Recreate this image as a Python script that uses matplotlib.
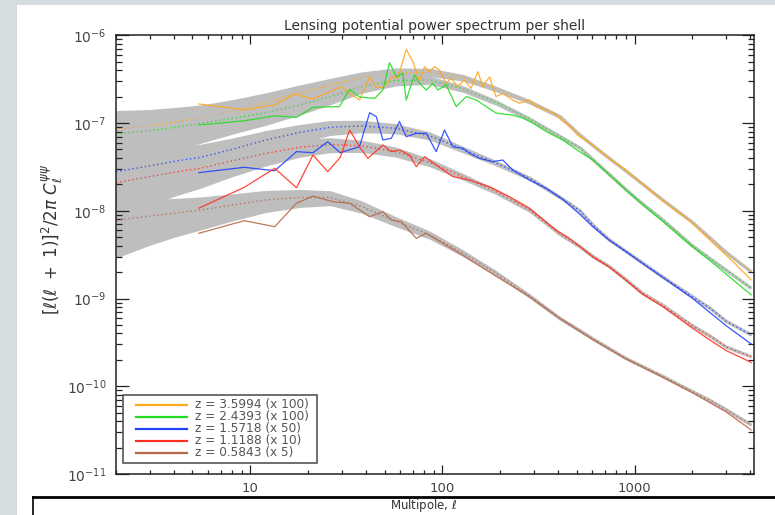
import numpy as np
import matplotlib
matplotlib.use("Agg")
import matplotlib.pyplot as plt
from matplotlib.lines import Line2D
from matplotlib.patches import Rectangle
from matplotlib.ticker import FixedLocator, LogLocator, NullFormatter, FixedFormatter

# ---------------- data ----------------
labels = ["z = 3.5994 (x 100)", "z = 2.4393 (x 100)", "z = 1.5718 (x 50)",
          "z = 1.1188 (x 10)", "z = 0.5843 (x 5)"]
colors = ["#ffa820", "#22dd22", "#2244ff", "#ff3322", "#b8684a"]

ell_theory = [2, 3, 4, 5.5, 8, 12, 18, 26, 38, 57, 86, 128, 190, 284, 410, 520,
              610, 740, 900, 1100, 1400, 2000, 2500, 3000, 4050]
theory_orange = [8.5e-8, 9.3e-8, 1.02e-7, 1.14e-7, 1.37e-7, 1.72e-7, 2.2e-7, 2.7e-7,
                 3.3e-7, 3.75e-7, 3.8e-7, 3.3e-7, 2.45e-7, 1.75e-7, 1.18e-7, 7.3e-8,
                 5.5e-8, 3.95e-8, 2.85e-8, 2.02e-8, 1.33e-8, 7.4e-9, 4.8e-9, 3.35e-9, 2.02e-9]
theory_green = [7.5e-8, 8.2e-8, 8.9e-8, 9.9e-8, 1.13e-7, 1.31e-7, 1.6e-7, 2.0e-7,
                2.6e-7, 3.05e-7, 3.1e-7, 2.45e-7, 1.72e-7, 1.11e-7, 7.0e-8, 5.2e-8,
                3.8e-8, 2.6e-8, 1.75e-8, 1.2e-8, 7.9e-9, 4.0e-9, 2.8e-9, 2.1e-9, 1.31e-9]
theory_blue = [2.79e-8, 3.25e-8, 3.65e-8, 4.07e-8, 5.0e-8, 6.4e-8, 7.8e-8, 8.95e-8,
               9.26e-8, 8.71e-8, 7.16e-8, 5.0e-8, 3.5e-8, 2.35e-8, 1.42e-8, 1.0e-8,
               6.8e-9, 4.65e-9, 3.45e-9, 2.55e-9, 1.76e-9, 1.05e-9, 7.6e-10, 5.5e-10, 3.84e-10]
theory_red = [2.09e-8, 2.45e-8, 2.75e-8, 3.05e-8, 3.7e-8, 4.5e-8, 5.3e-8, 5.7e-8,
              5.5e-8, 4.72e-8, 3.55e-8, 2.45e-8, 1.65e-8, 1.02e-8, 5.4e-9, 3.9e-9,
              3.0e-9, 2.31e-9, 1.65e-9, 1.15e-9, 8.4e-10, 4.9e-10, 3.67e-10, 2.8e-10, 2.17e-10]
theory_brown = [7.85e-9, 8.7e-9, 9.4e-9, 1.02e-8, 1.16e-8, 1.33e-8, 1.42e-8, 1.42e-8,
                1.12e-8, 7.6e-9, 5.3e-9, 3.3e-9, 1.95e-9, 1.07e-9, 5.9e-10, 4.3e-10,
                3.45e-10, 2.68e-10, 2.08e-10, 1.68e-10, 1.3e-10, 8.7e-11, 6.8e-11, 5.4e-11, 3.62e-11]

ell_orange = [5.4, 8.1, 9.3, 13.4, 17.0, 21.2, 29.7, 32.9, 37.0, 41.8, 45.3, 49.0, 51.0,
              55.2, 58.4, 64.8, 70.2, 76.0, 80.7, 85.7, 91.0, 96.6, 104.7, 111, 120, 130,
              141, 153, 162, 176, 190, 206, 232, 252, 284, 308, 347, 391, 415, 458, 505,
              606, 740, 904, 1103, 1400, 1930, 2453, 3243, 4045]
data_orange = [1.65e-7, 1.47e-7, 1.41e-7, 1.61e-7, 2.14e-7, 1.88e-7, 2.6e-7, 2.18e-7,
               1.83e-7, 3.32e-7, 2.55e-7, 2.55e-7, 2.84e-7, 3.37e-7, 3.2e-7, 6.9e-7,
               5.0e-7, 3.0e-7, 4.39e-7, 3.85e-7, 4.39e-7, 4.02e-7, 2.84e-7, 3.24e-7,
               2.6e-7, 3.09e-7, 2.49e-7, 3.85e-7, 2.6e-7, 3.37e-7, 2.0e-7, 2.18e-7,
               1.83e-7, 1.68e-7, 1.83e-7, 1.54e-7, 1.41e-7, 1.23e-7, 1.08e-7, 9.3e-8,
               7.3e-8, 5.6e-8, 3.9e-8, 2.9e-8, 2.0e-8, 1.3e-8, 7.7e-9, 4.7e-9, 2.65e-9, 1.63e-9]

ell_green = [5.4, 9.3, 13.4, 17.4, 21.2, 29.1, 32.9, 37.0, 44.4, 49.0, 53.1, 57.5, 62.2,
             64.8, 71.6, 76.0, 82.4, 89.2, 94.6, 104.7, 118, 133, 150, 169, 190, 232,
             262, 295, 347, 423, 517, 606, 740, 904, 1100, 1400, 2009, 2500, 2997, 4045]
data_green = [9.5e-8, 1.06e-7, 1.21e-7, 1.16e-7, 1.51e-7, 1.54e-7, 2.42e-7, 1.98e-7,
              1.91e-7, 2.38e-7, 4.87e-7, 3.37e-7, 3.69e-7, 1.83e-7, 3.53e-7, 2.84e-7,
              2.38e-7, 2.84e-7, 2.38e-7, 2.71e-7, 1.54e-7, 2.0e-7, 1.83e-7, 1.54e-7,
              1.3e-7, 1.23e-7, 1.14e-7, 1.0e-7, 8.0e-8, 6.4e-8, 4.72e-8, 3.8e-8, 2.55e-8,
              1.72e-8, 1.18e-8, 7.6e-9, 3.85e-9, 2.65e-9, 1.9e-9, 1.1e-9]

ell_blue = [5.4, 9.3, 13.4, 17.4, 21.2, 25.3, 29.4, 37.0, 41.8, 45.3, 49.0, 54.2, 59.8,
            64.8, 73.1, 82.4, 92.8, 102.5, 113.3, 127.7, 138.4, 156, 183, 206, 232, 284,
            347, 423, 517, 606, 740, 904, 1103, 1348, 1646, 2009, 2453, 2997, 4045]
data_blue = [2.72e-8, 3.13e-8, 2.86e-8, 4.72e-8, 4.59e-8, 6.13e-8, 4.59e-8, 5.37e-8,
             1.31e-7, 1.18e-7, 6.41e-8, 6.7e-8, 1.04e-7, 6.99e-8, 7.64e-8, 7.64e-8,
             4.72e-8, 8.33e-8, 5.37e-8, 5.16e-8, 4.52e-8, 3.96e-8, 3.63e-8, 3.79e-8,
             2.92e-8, 2.24e-8, 1.8e-8, 1.35e-8, 9.2e-9, 6.6e-9, 4.6e-9, 3.42e-9, 2.5e-9,
             1.85e-9, 1.36e-9, 1.0e-9, 7.0e-10, 4.9e-10, 3.03e-10]

ell_red = [5.4, 9.3, 13.4, 17.4, 21.2, 25.3, 29.4, 32.9, 37.0, 40.9, 49.0, 54.2, 59.8,
           67.4, 73.1, 80.7, 92.8, 113.3, 138.4, 176, 223, 284, 391, 458, 520, 610, 740,
           900, 1100, 1400, 2000, 2500, 3000, 4045]
data_red = [1.07e-8, 1.85e-8, 3.05e-8, 1.83e-8, 4.32e-8, 2.79e-8, 4.07e-8, 8.33e-8,
            5.37e-8, 3.96e-8, 5.62e-8, 4.72e-8, 4.93e-8, 4.32e-8, 3.18e-8, 4.13e-8,
            3.33e-8, 2.45e-8, 2.24e-8, 1.88e-8, 1.45e-8, 1.07e-8, 6.0e-9, 4.86e-9, 3.9e-9,
            2.95e-9, 2.28e-9, 1.62e-9, 1.12e-9, 8.1e-10, 4.6e-10, 3.3e-10, 2.55e-10, 1.87e-10]

ell_brown = [5.4, 9.3, 13.4, 17.4, 21.2, 26.9, 32.9, 41.8, 49.0, 54.2, 61.0, 73.1, 82.4,
             92.8, 128, 190, 284, 406, 606, 904, 1348, 2009, 2997, 4045]
data_brown = [5.54e-9, 7.71e-9, 6.59e-9, 1.22e-8, 1.47e-8, 1.27e-8, 1.22e-8, 8.57e-9,
              9.77e-9, 7.85e-9, 7.51e-9, 4.86e-9, 5.54e-9, 4.73e-9, 3.1e-9, 1.8e-9,
              1.05e-9, 6.0e-10, 3.4e-10, 2.05e-10, 1.32e-10, 8.4e-11, 5.1e-11, 3.18e-11]

xtick_vals = [10, 100, 1000]
xtick_labels = ["10", "100", "1000"]
ytick_vals = [1e-11, 1e-10, 1e-9, 1e-8, 1e-7, 1e-6]
ytick_labels = [r"$10^{-11}$", r"$10^{-10}$", r"$10^{-9}$", r"$10^{-8}$", r"$10^{-7}$", r"$10^{-6}$"]

theories = [theory_orange, theory_green, theory_blue, theory_red, theory_brown]
ells = [ell_orange, ell_green, ell_blue, ell_red, ell_brown]
datas = [data_orange, data_green, data_blue, data_red, data_brown]

# ---------------- figure ----------------
W, H = 775, 515
fig = plt.figure(figsize=(W / 100, H / 100), dpi=100, facecolor="#d5dde1")
fig.add_artist(Rectangle((17 / W, 0), 1 - 17 / W, 1 - 5 / H, transform=fig.transFigure,
                         facecolor="white", edgecolor="none", zorder=0))

ax = fig.add_axes([116 / W, 1 - 474 / H, (754.3 - 116) / W, (474 - 35.3) / H])
ax.set_xscale("log")
ax.set_yscale("log")
ax.set_xlim(2, 4200)
ax.set_ylim(1e-11, 1e-6)

band_color = "#bebebe"
lt = np.array(ell_theory, dtype=float)
kfrac = np.sqrt(2.0 / (2.0 * lt + 1.0))  # cosmic-variance band
for th in theories:
    th = np.array(th)
    ax.fill_between(lt, th * (1 - kfrac), th * (1 + kfrac), color=band_color, lw=0, zorder=1)
    ax.plot(lt, th, color=band_color, lw=2.4, zorder=1.5, solid_capstyle="butt")
for th, c in zip(theories, colors):
    ax.plot(lt, th, color=c, lw=1.0, ls=(0, (1, 2)), alpha=0.85, zorder=2)
for l, d, c in zip(ells, datas, colors):
    ax.plot(l, d, color=c, lw=0.9, alpha=0.9, zorder=3)

# ticks
ax.xaxis.set_major_locator(FixedLocator(xtick_vals))
ax.xaxis.set_major_formatter(FixedFormatter(xtick_labels))
ax.xaxis.set_minor_locator(LogLocator(base=10, subs=np.arange(2, 10), numticks=20))
ax.xaxis.set_minor_formatter(NullFormatter())
ax.yaxis.set_major_locator(FixedLocator(ytick_vals))
ax.yaxis.set_major_formatter(FixedFormatter(ytick_labels))
ax.yaxis.set_minor_locator(LogLocator(base=10, subs=np.arange(2, 10), numticks=20))
ax.yaxis.set_minor_formatter(NullFormatter())
ax.tick_params(which="both", direction="in", top=True, right=True, color="#222222",
               labelcolor="#444444")
ax.tick_params(axis="x", which="major", length=6.5, width=0.9, pad=6, labelsize=9.5)
ax.tick_params(axis="x", which="minor", length=3.2, width=0.9)
ax.tick_params(axis="y", which="major", length=9, width=0.9, pad=7, labelsize=10)
ax.tick_params(axis="y", which="minor", length=4.5, width=0.9)
for s in ax.spines.values():
    s.set_color("#222222")
    s.set_linewidth(1.1)
    s.set_zorder(6)

# legend (drawn manually, IDL-like)
ax.add_patch(Rectangle((0.011, 0.025), 0.304, 0.155, transform=ax.transAxes,
                       facecolor="white", edgecolor="#555555", lw=1.2, zorder=7))
for i, (lab, c) in enumerate(zip(labels, colors)):
    yy = 0.158 - i * 0.0275
    ax.add_line(Line2D([0.0313, 0.1112], [yy, yy], transform=ax.transAxes, color=c,
                       lw=1.6, zorder=8))
    ax.text(0.1238, yy, lab, transform=ax.transAxes, fontsize=8.7, color="#555555",
            va="center", ha="left", zorder=8)

# texts
fig.text(434.5 / W, 1 - 26 / H, "Lensing potential power spectrum per shell",
         ha="center", va="center", fontsize=10, color="#333333")
fig.text(52 / W, 1 - 240 / H, r"$[\ell(\ell\ +\ 1)]^2/2\pi\ C_\ell^{\psi\psi}$",
         rotation=90, ha="center", va="center", fontsize=12, color="#333333")
fig.text(424 / W, 1 - 505 / H, r"Multipole, $\ell$", ha="center", va="center",
         fontsize=8.5, color="#333333")

# bottom frame lines of the page
fig.add_artist(Line2D([33 / W, 1], [1 - 497 / H, 1 - 497 / H], transform=fig.transFigure,
                      color="black", lw=2.0))
fig.add_artist(Line2D([33 / W, 33 / W], [0, 1 - 497 / H], transform=fig.transFigure,
                      color="black", lw=1.2))

fig.savefig("out.png", dpi=100, facecolor=fig.get_facecolor())
